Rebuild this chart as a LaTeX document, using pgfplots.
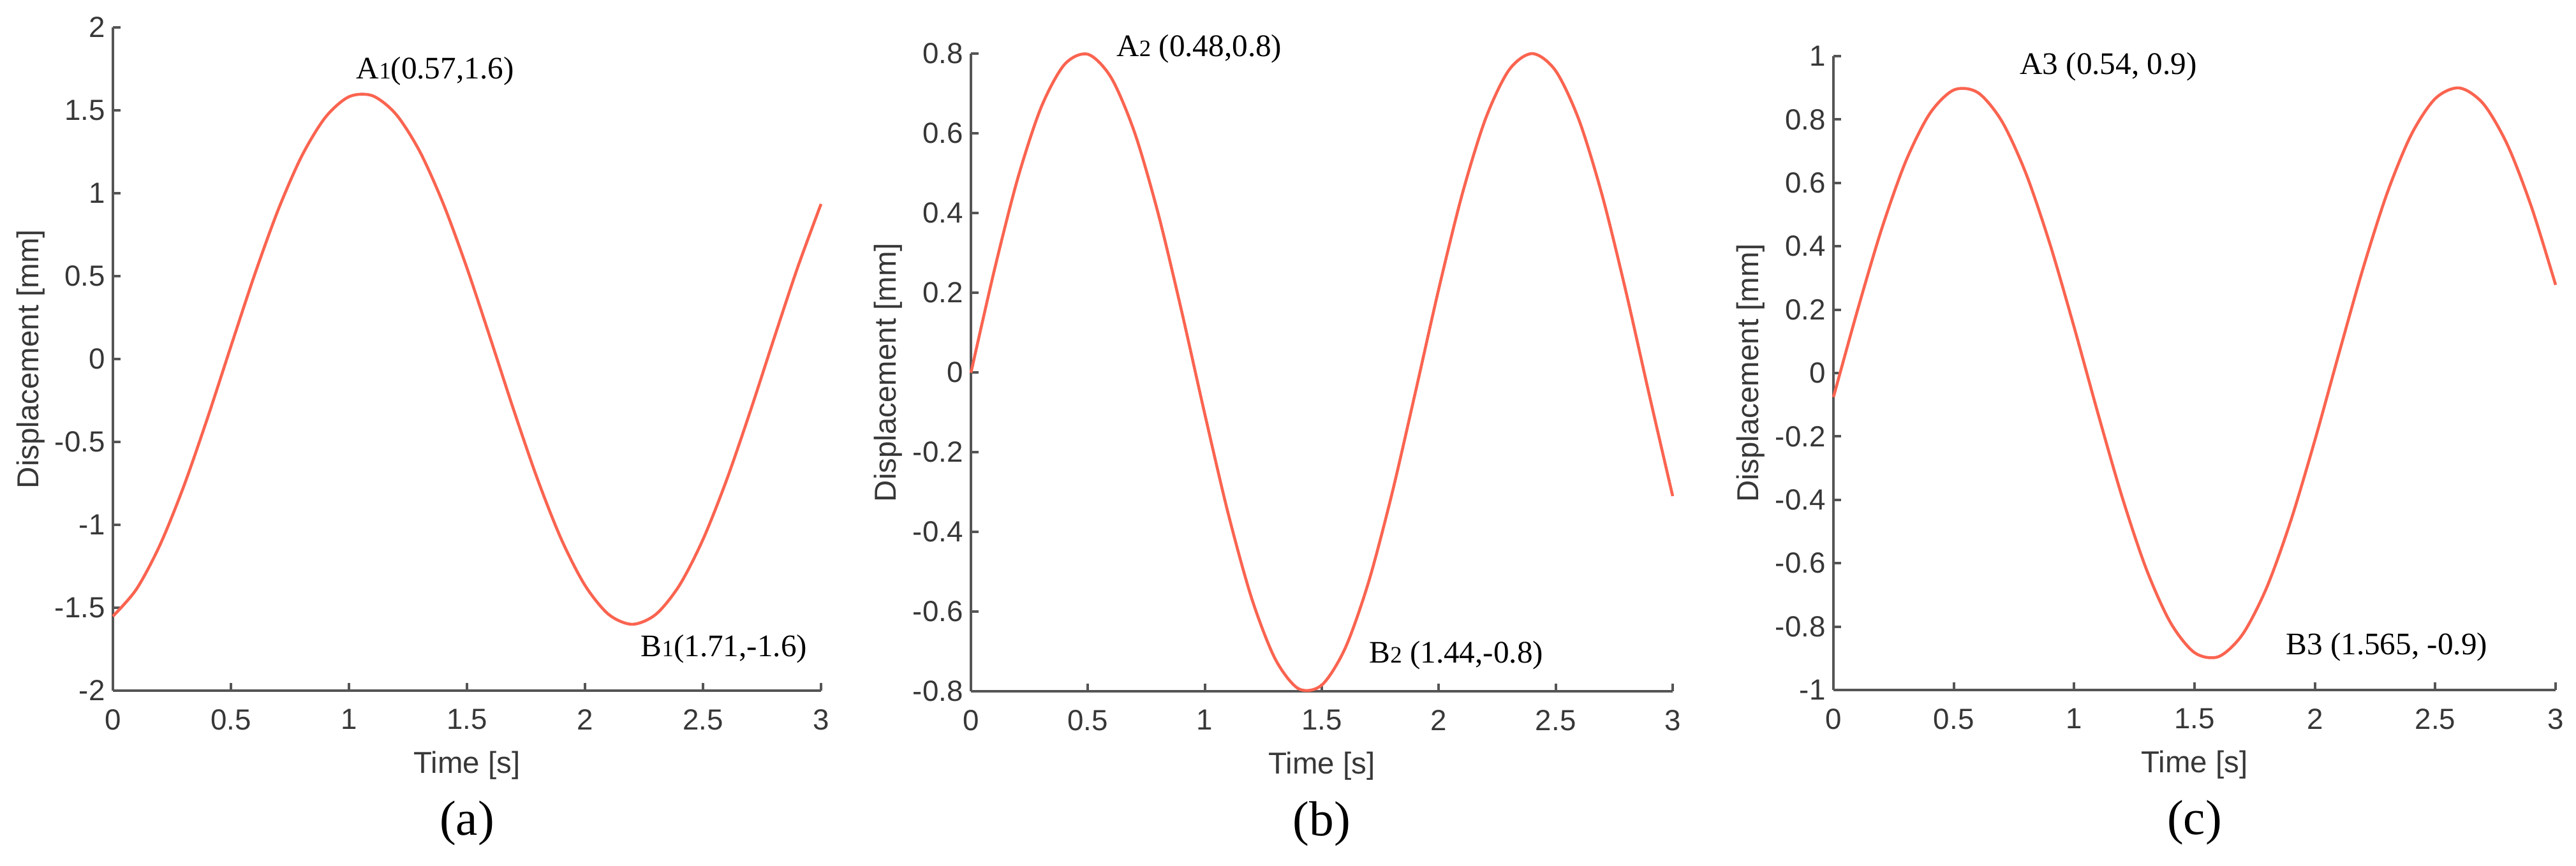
\documentclass[border=0pt]{standalone}
\usepackage{fontspec}
\setmainfont{Liberation Sans}
\newfontfamily\tnr{Liberation Serif}
\usepackage{pgfplots}
\pgfplotsset{compat=1.18}
\definecolor{curvecol}{RGB}{250,100,80}
\definecolor{axgray}{RGB}{85,85,85}
\definecolor{lblgray}{RGB}{55,55,55}
\pgfplotsset{
  panel/.style={
    scale only axis, axis lines*=left,
    axis line style={axgray, line width=1.1pt, -},
    tick align=inside, major tick length=0.12cm,
    tick style={axgray, line width=1.1pt},
    xmin=0, xmax=3, xtick={0,0.5,1,1.5,2,2.5,3},
    enlargelimits=false, clip=false,
    ticklabel style={font=\fontsize{13}{15}\selectfont, text=lblgray},
    /pgf/number format/assume math mode=true,
    xticklabel style={yshift=-0.17cm},
    label style={font=\fontsize{13.5}{16}\selectfont, text=lblgray},
    xlabel={Time [s]}, ylabel={Displacement [mm]},
    xlabel style={at={(axis description cs:0.5,0)}, anchor=base, yshift=-1.30cm},
  },
  sine/.style={color=curvecol, line width=1.3pt, smooth, no markers},
}
\newcommand{\annfont}{\tnr\fontsize{14}{16}\selectfont}
\newcommand{\smalldig}[1]{{\fontsize{10.5}{12}\selectfont #1}}
\newcommand{\capfont}{\tnr\fontsize{22}{24}\selectfont}
\begin{document}
\begin{tikzpicture}
\path[use as bounding box] (0,0) rectangle (40.38cm,13.58cm);

% ---------- (a) ----------
\begin{axis}[panel, at={(1.77cm,2.75cm)}, anchor=south west,
  width=11.10cm, height=10.40cm, ymin=-2, ymax=2,
  ytick={-2,-1.5,-1,-0.5,0,0.5,1,1.5,2},
  ylabel style={at={(axis description cs:-0.1054,0.5)}, anchor=base}]
\addplot[sine] coordinates {
(0.0,-1.5515) (0.1,-1.3874) (0.2,-1.1197) (0.3,-0.7681) (0.4,-0.3591)
(0.5,0.0768) (0.6,0.5069) (0.7,0.8992) (0.8,1.2241) (0.9,1.4575)
(1.0,1.5818) (1.1,1.5878) (1.2,1.4750) (1.3,1.2519) (1.4,0.9351)
(1.5,0.5484) (1.6,0.1206) (1.7,-0.3162) (1.8,-0.7293) (1.9,-1.0879)
(2.0,-1.3651) (2.1,-1.5401) (2.2,-1.6000) (2.3,-1.5402) (2.4,-1.3651)
(2.5,-1.0879) (2.6,-0.7293) (2.7,-0.3162) (2.8,0.1206) (2.9,0.5484)
(3.0,0.9351)};
\node[font=\annfont, inner sep=0] at (axis cs:1.365,1.735) {A\smalldig{1}(0.57,1.6)};
\node[font=\annfont, inner sep=0] at (axis cs:2.589,-1.75) {B\smalldig{1}(1.71,-1.6)};
\node[font=\capfont, anchor=base] at ([yshift=-2.27cm]axis description cs:0.5,0) {(a)};
\end{axis}

% ---------- (b) ----------
\begin{axis}[panel, at={(15.22cm,2.74cm)}, anchor=south west,
  width=11.00cm, height=10.00cm, ymin=-0.8, ymax=0.8,
  ytick={-0.8,-0.6,-0.4,-0.2,0,0.2,0.4,0.6,0.8},
  ylabel style={at={(axis description cs:-0.1064,0.5)}, anchor=base}]
\addplot[sine] coordinates {
(0.0,-0.0008) (0.1,0.2565) (0.2,0.4866) (0.3,0.6650) (0.4,0.7727)
(0.5,0.7983) (0.6,0.7390) (0.7,0.6012) (0.8,0.3995) (0.9,0.1553)
(1.0,-0.1053) (1.1,-0.3548) (1.2,-0.5666) (1.3,-0.7181) (1.4,-0.7934)
(1.5,-0.7843) (1.6,-0.6918) (1.7,-0.5258) (1.8,-0.3040) (1.9,-0.0498)
(2.0,0.2097) (2.1,0.4468) (2.2,0.6365) (2.3,0.7586) (2.4,0.8000)
(2.5,0.7564) (2.6,0.6324) (2.7,0.4412) (2.8,0.2031) (2.9,-0.0566)
(3.0,-0.3103)};
\node[font=\annfont, inner sep=0] at (axis cs:0.976,0.811) {A\smalldig{2} (0.48,0.8)};
\node[font=\annfont, inner sep=0] at (axis cs:2.075,-0.71) {B\smalldig{2} (1.44,-0.8)};
\node[font=\capfont, anchor=base] at ([yshift=-2.27cm]axis description cs:0.5,0) {(b)};
\end{axis}

% ---------- (c) ----------
\begin{axis}[panel, at={(28.74cm,2.76cm)}, anchor=south west,
  width=11.32cm, height=9.94cm, ymin=-1, ymax=1,
  ytick={-1,-0.8,-0.6,-0.4,-0.2,0,0.2,0.4,0.6,0.8,1},
  ylabel style={at={(axis description cs:-0.1034,0.5)}, anchor=base}]
\addplot[sine] coordinates {
(0.0,-0.0758) (0.1,0.1984) (0.2,0.4540) (0.3,0.6673) (0.4,0.8184)
(0.5,0.8932) (0.6,0.8848) (0.7,0.7939) (0.8,0.6290) (0.9,0.4055)
(1.0,0.1442) (1.1,-0.1306) (1.2,-0.3932) (1.3,-0.6191) (1.4,-0.7873)
(1.5,-0.8822) (1.6,-0.8948) (1.7,-0.8240) (1.8,-0.6765) (1.9,-0.4658)
(2.0,-0.2118) (2.1,0.0620) (2.2,0.3300) (2.3,0.5673) (2.4,0.7517)
(2.5,0.8660) (2.6,0.8996) (2.7,0.8493) (2.8,0.7199) (2.9,0.5234)
(3.0,0.2781)};
\node[font=\annfont, inner sep=0] at (axis cs:1.142,0.966) {A3 (0.54, 0.9)};
\node[font=\annfont, inner sep=0] at (axis cs:2.298,-0.865) {B3 (1.565, -0.9)};
\node[font=\capfont, anchor=base] at ([yshift=-2.27cm]axis description cs:0.5,0) {(c)};
\end{axis}
\end{tikzpicture}
\end{document}
